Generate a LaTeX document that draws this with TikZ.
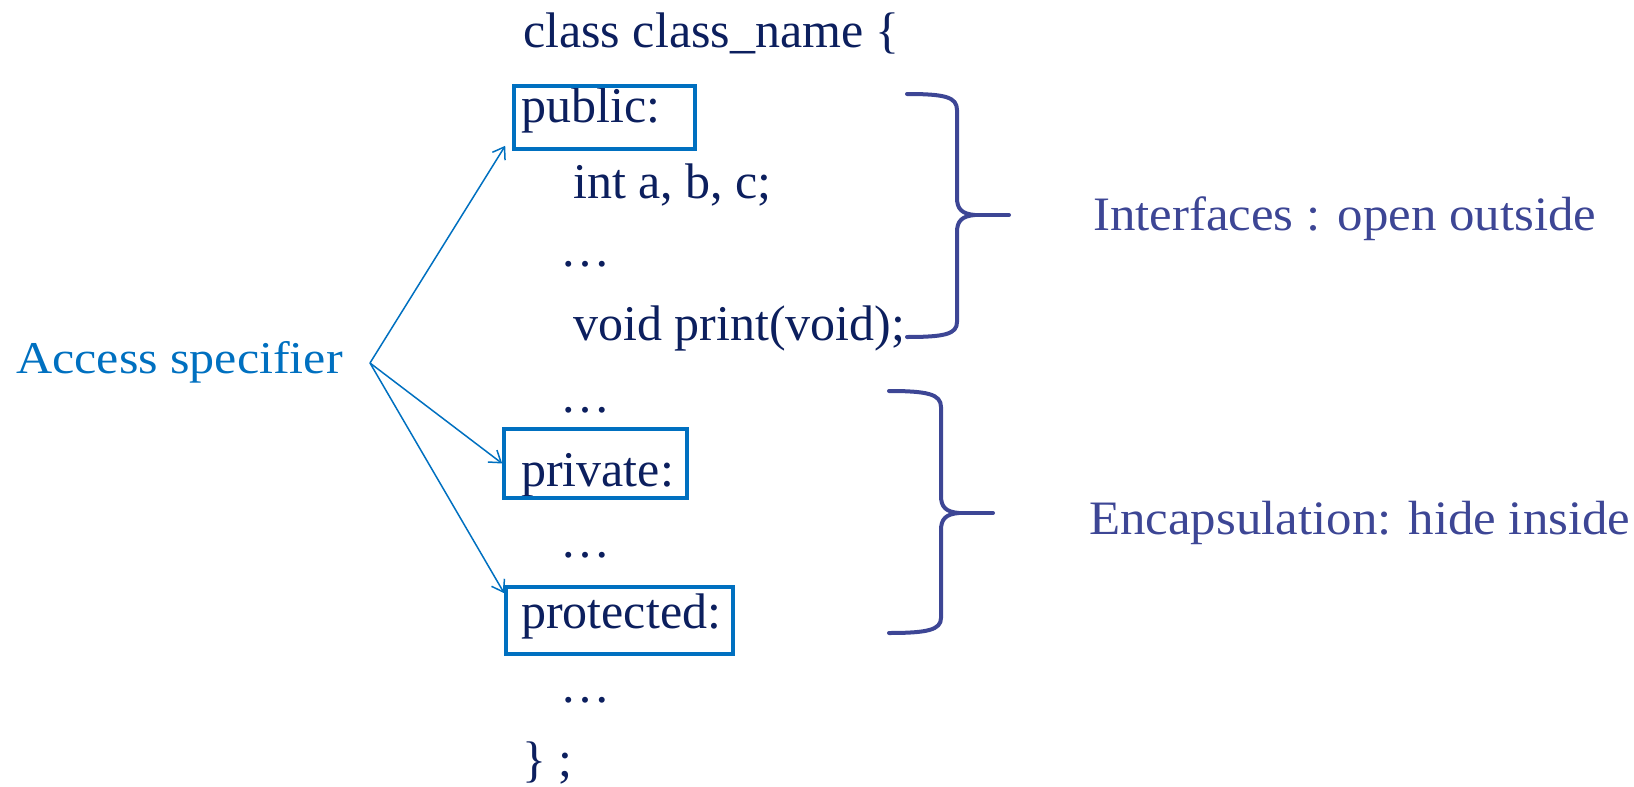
\documentclass[tikz,border=0pt]{standalone}
\usepackage{fontspec}
\setmainfont{Liberation Serif}
\newfontfamily\sidefont{Liberation Serif}[FakeStretch=1.06]
\newfontfamily\specfont{Liberation Serif}[FakeStretch=1.1]
\usetikzlibrary{arrows.meta}
\definecolor{codeink}{HTML}{0C1F5E}
\definecolor{specblue}{HTML}{0070C0}
\definecolor{bracepurple}{HTML}{3D4695}
\tikzset{
  codeline/.style={anchor=base west, inner sep=0pt, text=codeink, font=\fontsize{50}{50}\selectfont},
  sidelabel/.style={anchor=base west, inner sep=0pt, text=bracepurple, font=\sidefont\fontsize{48}{48}\selectfont},
  speclabel/.style={anchor=base west, inner sep=0pt, text=specblue, font=\specfont\fontsize{45.5}{45.5}\selectfont},
  kwbox/.style={draw=specblue, line width=3.6pt, inner sep=0pt, rectangle},
  specarrow/.style={draw=specblue, line width=1.5pt, -{Straight Barb[length=11pt,width=15pt,line width=1.5pt]}},
  bracestroke/.style={draw=bracepurple, line width=4pt, line cap=round, line join=round},
}
\begin{document}
\begin{tikzpicture}[x=1pt,y=-1pt]
\useasboundingbox (0,0) rectangle (1634,787);

% code lines
\node[codeline] (l0)  at (523,47)  {class class\_name \{};
\node[codeline] (l1)  at (521,122) {public:};
\node[codeline] (l2)  at (573,198) {int a, b, c;};
\node[codeline] (l3)  at (560,266) {…};
\node[codeline] (l4)  at (573,340) {void print(void);};
\node[codeline] (l5)  at (560,412) {…};
\node[codeline] (l6)  at (521,486) {private:};
\node[codeline] (l7)  at (560,557) {…};
\node[codeline] (l8)  at (521,628) {protected:};
\node[codeline] (l9)  at (560,702) {…};
\node[codeline] (l10) at (522,776) {\} ;};

% access specifier boxes
\node[kwbox, minimum width=181pt, minimum height=63pt] (pub)  at (604.5,117.5) {};
\node[kwbox, minimum width=183pt, minimum height=69pt] (priv) at (595.5,463.5) {};
\node[kwbox, minimum width=227pt, minimum height=67pt] (prot) at (619.5,620.5) {};

% label and its arrows
\node[speclabel] (spec) at (16,373) {Access specifier};
\coordinate (fork) at (370,363);
\draw[specarrow] (fork) -- ([shift={(-7,-5)}]pub.south west);
\draw[specarrow] (fork) -- (priv.west);
\draw[specarrow] (fork) -- ([yshift=-8pt]prot.north west);

% braces
\draw[bracestroke] (907,94) .. controls (945,94) and (957,97) .. (957,110)
  -- (957,198) .. controls (957,209) and (962,214) .. (975,215)
  .. controls (962,216) and (957,221) .. (957,232)
  -- (957,322) .. controls (957,334) and (945,337) .. (907,337);
\draw[bracestroke] (975,215) -- (1009,215);

\draw[bracestroke] (889,391) .. controls (927,391) and (941,394) .. (941,407)
  -- (941,496) .. controls (941,507) and (946,512) .. (959,513)
  .. controls (946,514) and (941,519) .. (941,530)
  -- (941,618) .. controls (941,630) and (927,633) .. (889,633);
\draw[bracestroke] (959,513) -- (993,513);

% brace labels
\node[sidelabel] (iface) at (1093,230) {Interfaces : open outside};
\node[sidelabel] (encap) at (1089,534) {Encapsulation: hide inside};
\end{tikzpicture}
\end{document}
